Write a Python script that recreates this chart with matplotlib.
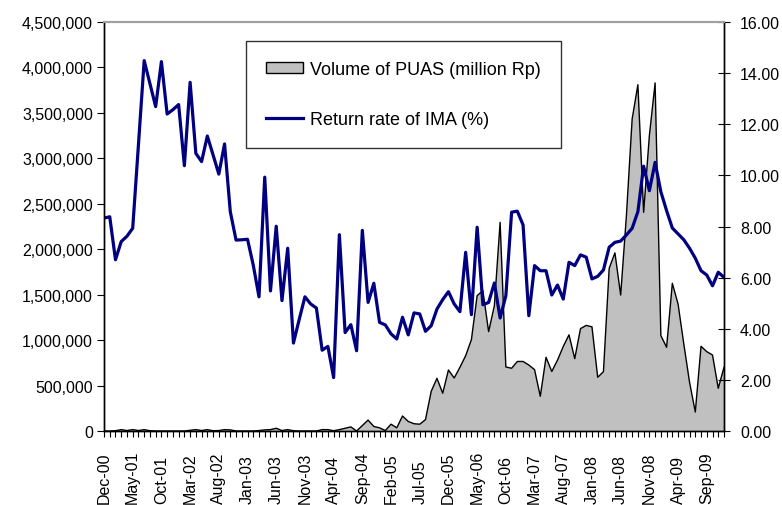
import numpy as np
import matplotlib
matplotlib.use('Agg')
import matplotlib.pyplot as plt
from matplotlib.patches import Patch
from matplotlib.lines import Line2D
from matplotlib.ticker import FuncFormatter

plt.rcParams['font.family'] = ['Liberation Sans', 'DejaVu Sans']

# monthly series, Dec-00 .. Dec-09
volume_puas = [0, 0, 3000, 15000, 5000, 15000, 5000, 15000, 3000, 0,
               0, 0, 0, 0, 0, 8000, 15000, 5000, 15000, 3000,
               5000, 15000, 12000, 0, 0, 0, 0, 5000, 12000, 15000,
               30000, 5000, 15000, 3000, 0, 0, 0, 0, 15000, 15000,
               3000, 15000, 30000, 45000, 0, 60000, 120000, 50000, 35000, 5000,
               75000, 35000, 165000, 105000, 80000, 75000, 125000, 437000, 580000, 415000,
               671000, 583000, 701000, 829000, 1005000, 1489000, 1544000, 1093000, 1379000, 2296000,
               705000, 690000, 765000, 765000, 726000, 675000, 382000, 811000, 655000, 780000,
               930000, 1058000, 796000, 1126000, 1162000, 1146000, 591000, 653000, 1790000, 1960000,
               1496000, 2369000, 3433000, 3810000, 2406000, 3250000, 3830000, 1050000, 921000, 1625000,
               1397000, 957000, 536000, 209000, 932000, 873000, 836000, 470000, 701000]

return_ima = [8.33, 8.38, 6.70, 7.41, 7.62, 7.93, 11.2, 14.49, 13.59, 12.69,
              14.45, 12.40, 12.57, 12.77, 10.38, 13.64, 10.86, 10.54, 11.54, 10.8,
              10.05, 11.23, 8.58, 7.47, 7.48, 7.50, 6.49, 5.25, 9.93, 5.48,
              8.01, 5.10, 7.15, 3.44, 4.36, 5.25, 4.97, 4.81, 3.16, 3.31,
              2.09, 7.68, 3.85, 4.16, 3.14, 7.85, 5.03, 5.78, 4.25, 4.15,
              3.80, 3.60, 4.45, 3.76, 4.62, 4.58, 3.90, 4.12, 4.77, 5.14,
              5.45, 4.97, 4.67, 6.99, 4.55, 7.97, 4.94, 5.03, 5.79, 4.42,
              5.29, 8.56, 8.60, 8.06, 4.51, 6.47, 6.27, 6.27, 5.32, 5.71,
              5.16, 6.60, 6.47, 6.89, 6.80, 5.95, 6.05, 6.30, 7.19, 7.38,
              7.43, 7.67, 7.93, 8.58, 10.36, 9.40, 10.51, 9.36, 8.62, 7.94,
              7.71, 7.48, 7.15, 6.76, 6.27, 6.10, 5.68, 6.21, 6.01]

month_labels = ['Dec-00', 'May-01', 'Oct-01', 'Mar-02', 'Aug-02', 'Jan-03', 'Jun-03',
                'Nov-03', 'Apr-04', 'Sep-04', 'Feb-05', 'Jul-05', 'Dec-05', 'May-06',
                'Oct-06', 'Mar-07', 'Aug-07', 'Jan-08', 'Jun-08', 'Nov-08', 'Apr-09',
                'Sep-09']

x = np.arange(len(volume_puas))

fig = plt.figure(figsize=(7.82, 5.06), dpi=100)
ax = fig.add_axes([104/782, 74/506, 620/782, 409/506])

# volume as grey area with thin black outline
ax.fill_between(x, volume_puas, 0, facecolor='#c0c0c0', edgecolor='none')
ax.plot(x, volume_puas, color='black', linewidth=1.0)
ax.set_xlim(0, len(x) - 1)
ax.set_ylim(0, 4500000)
ax.set_yticks(np.arange(0, 4500001, 500000))
ax.yaxis.set_major_formatter(FuncFormatter(lambda v, p: '{:,.0f}'.format(v)))

ticklabels = ['' for _ in x]
for k, lab in enumerate(month_labels):
    ticklabels[k * 5] = lab
ax.set_xticks(x)
ax.set_xticklabels(ticklabels, rotation=90, fontsize=11.5)
# month labels sit flush at the bottom, reading upwards
for lbl in ax.get_xticklabels():
    lbl.set_verticalalignment('bottom')
ax.tick_params(axis='x', length=4, width=0.8, pad=48, direction='out')
ax.tick_params(axis='y', length=5, width=0.8, labelsize=11.5, pad=3, direction='out')

# return rate on secondary axis
ax2 = ax.twinx()
ax2.plot(x, return_ima, color='#000080', linewidth=2.3)
ax2.set_ylim(0, 16)
ax2.set_yticks(np.arange(0, 16.1, 2))
ax2.yaxis.set_major_formatter(FuncFormatter(lambda v, p: '{:.2f}'.format(v)))
ax2.tick_params(axis='y', length=9, width=0.8, labelsize=11.5, pad=7, direction='inout')

for a in (ax, ax2):
    a.spines['top'].set_color('#a0a0a0')
    a.spines['top'].set_linewidth(1.5)
    a.spines['left'].set_linewidth(1.0)
    a.spines['right'].set_linewidth(1.0)
    a.spines['bottom'].set_linewidth(1.0)

handles = [Patch(facecolor='#c0c0c0', edgecolor='black', linewidth=1.0),
           Line2D([0], [0], color='#000080', linewidth=2.3)]
labels = ['Volume of PUAS (million Rp)', 'Return rate of IMA (%)']
leg = ax2.legend(handles, labels, loc='upper left',
                 bbox_to_anchor=(246/782, 1 - 42/506), bbox_transform=fig.transFigure,
                 fontsize=13, frameon=True, fancybox=False, shadow=False,
                 borderpad=1.12, labelspacing=1.82, handlelength=2.05, handleheight=0.55,
                 handletextpad=0.35, borderaxespad=0)
leg.get_frame().set_edgecolor('black')
leg.get_frame().set_linewidth(1.0)

fig.savefig('out.png', dpi=100)
